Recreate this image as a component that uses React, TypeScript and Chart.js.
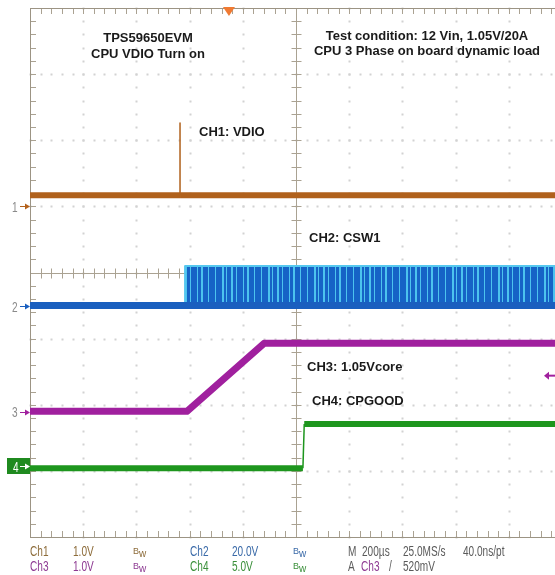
import React, { useEffect, useRef } from "react";
import { Chart, registerables } from "chart.js";
Chart.register(...registerables);

// Time axis: 10 divisions × 200 µs
const TIME_DIV_US = 200;
const X_DIVS = 10;
const Y_DIVS = 8;

// Trace levels in screen divisions (0 = bottom graticule line)
const ch1Time = [0, 564, 564, 564, 2000];
const ch1Level = [5.17, 5.17, 6.26, 5.17, 5.17];
const ch2LowTime = [0, 2000];
const ch2LowLevel = [3.5, 3.5];
const ch2HighTime = [583, 583, 2000];
const ch2HighLevel = [3.5, 4.1, 4.1];
const ch3Time = [0, 590, 880, 2000];
const ch3Level = [1.9, 1.9, 2.93, 2.93];
const ch4Time = [0, 1026, 1031, 2000];
const ch4Level = [1.04, 1.04, 1.71, 1.71];

const markerLevels = [5.0, 3.5, 1.89, 1.07];
const markerColors = ["#b4621c", "#1a5fbf", "#a0209e", "#ffffff"];
const triggerTimeUs = 748;
const triggerLevel = 2.44;

const pts = (xs: number[], ys: number[]) => xs.map((x, i) => ({ x, y: ys[i] }));

const graticule = {
  id: "graticule",
  beforeDatasetsDraw(chart: any) {
    const { ctx, chartArea: a, scales } = chart;
    const xs = scales.x, ys = scales.y;
    ctx.save();
    const minorX: number[] = [];
    for (let i = 0; i <= X_DIVS * 5; i++) minorX.push(Math.round(xs.getPixelForValue((i * TIME_DIV_US) / 5)) + 0.5);
    const minorY: number[] = [];
    for (let j = 0; j <= Y_DIVS * 5; j++) minorY.push(Math.round(ys.getPixelForValue(j / 5)) + 0.5);
    const majX = (i: number) => Math.round(xs.getPixelForValue(i * TIME_DIV_US)) + 0.5;
    const majY = (j: number) => Math.round(ys.getPixelForValue(j)) + 0.5;
    // dotted grid
    ctx.fillStyle = "#d2d2d2";
    for (let i = 1; i < X_DIVS; i++) {
      if (i === 5) continue;
      const px = majX(i);
      minorY.forEach((py) => ctx.fillRect(px - 1, py - 1, 2, 2));
    }
    for (let j = 1; j < Y_DIVS; j++) {
      if (j === 4) continue;
      const py = majY(j);
      minorX.forEach((px) => ctx.fillRect(px - 1, py - 1, 2, 2));
    }
    ctx.strokeStyle = "#aaa292";
    ctx.lineWidth = 1;
    // center axes
    const cx = majX(5), cy = majY(4);
    ctx.beginPath();
    ctx.moveTo(a.left, cy); ctx.lineTo(a.right, cy);
    ctx.moveTo(cx, a.top); ctx.lineTo(cx, a.bottom);
    minorX.forEach((px) => { ctx.moveTo(px, cy - 5); ctx.lineTo(px, cy + 5); });
    minorY.forEach((py) => { ctx.moveTo(cx - 5, py); ctx.lineTo(cx + 5, py); });
    // border ticks
    minorX.forEach((px) => {
      ctx.moveTo(px, a.top); ctx.lineTo(px, a.top + 6);
      ctx.moveTo(px, a.bottom); ctx.lineTo(px, a.bottom - 6);
    });
    minorY.forEach((py) => {
      ctx.moveTo(a.left, py); ctx.lineTo(a.left + 6, py);
      ctx.moveTo(a.right, py); ctx.lineTo(a.right - 6, py);
    });
    ctx.stroke();
    ctx.strokeStyle = "#9c9484";
    ctx.strokeRect(Math.round(a.left) + 0.5, Math.round(a.top) + 0.5, Math.round(a.width), Math.round(a.height));
    ctx.restore();
  },
  afterDatasetsDraw(chart: any) {
    const { ctx, chartArea: a, scales } = chart;
    ctx.save();
    // trigger position marker (top)
    const tx = scales.x.getPixelForValue(triggerTimeUs);
    ctx.fillStyle = "#f07a32";
    ctx.beginPath();
    ctx.moveTo(tx - 6, a.top - 1);
    ctx.lineTo(tx + 6, a.top - 1);
    ctx.lineTo(tx, a.top + 8);
    ctx.closePath();
    ctx.fill();
    // trigger level marker (right)
    const ty = scales.y.getPixelForValue(triggerLevel);
    ctx.strokeStyle = "#a0209e";
    ctx.fillStyle = "#a0209e";
    ctx.lineWidth = 2;
    ctx.beginPath();
    ctx.moveTo(548, ty); ctx.lineTo(556, ty);
    ctx.stroke();
    ctx.beginPath();
    ctx.moveTo(544, ty); ctx.lineTo(549, ty - 4); ctx.lineTo(549, ty + 4); ctx.closePath();
    ctx.fill();
    // ground markers (left)
    const g4 = scales.y.getPixelForValue(markerLevels[3]);
    ctx.fillStyle = "#1f8a1f";
    ctx.fillRect(7, Math.round(g4) - 8, a.left - 7, 16);
    markerLevels.forEach((lv, k) => {
      const py = Math.round(scales.y.getPixelForValue(lv)) + 0.5;
      ctx.strokeStyle = markerColors[k];
      ctx.fillStyle = markerColors[k];
      ctx.lineWidth = 1;
      ctx.beginPath();
      ctx.moveTo(20, py); ctx.lineTo(26, py);
      ctx.stroke();
      ctx.beginPath();
      ctx.moveTo(a.left, py); ctx.lineTo(a.left - 5, py - 3); ctx.lineTo(a.left - 5, py + 3); ctx.closePath();
      ctx.fill();
    });
    ctx.restore();
  },
};

function makePattern(): CanvasPattern | string {
  const c = document.createElement("canvas");
  c.width = 46; c.height = 8;
  const g = c.getContext("2d");
  if (!g) return "#1660c4";
  g.fillStyle = "#1663c6";
  g.fillRect(0, 0, 46, 8);
  g.fillStyle = "#4cc3ee";
  [1, 6, 13, 17, 24, 31, 38, 42].forEach((p, i) => g.fillRect(p, 0, i % 3 === 0 ? 2 : 1, 8));
  return g.createPattern(c, "repeat") || "#1660c4";
}

const thinIfVertical = (wide: number) => (ctx: any) =>
  Math.abs(ctx.p1.parsed.x - ctx.p0.parsed.x) < 10 ? 1.5 : wide;

type TProps = { x: number; capTop: number; size: number; color: string; bold?: boolean; sx?: number; center?: boolean; children: React.ReactNode };
function T({ x, capTop, size, color, bold, sx, center, children }: TProps) {
  const style: React.CSSProperties = {
    position: "absolute",
    left: x,
    top: capTop - 0.1305 * size,
    fontSize: size,
    lineHeight: size + "px",
    fontFamily: "'Liberation Sans', Arial, sans-serif",
    fontWeight: bold ? 700 : 400,
    color,
    whiteSpace: "nowrap",
    transformOrigin: center ? "center top" : "left top",
    transform: center ? "translateX(-50%)" : sx ? `scaleX(${sx})` : undefined,
  };
  return <div style={style}>{children}</div>;
}

const BROWN = "#8d6c3a", BLUE = "#3a6aa8", PURPLE = "#8d3a92", GREEN = "#3a8f3a", GRAY = "#5a5a5a";
const SX = 0.72;

function Bw({ x, capTop, color }: { x: number; capTop: number; color: string }) {
  return (
    <div style={{ position: "absolute", left: x, top: capTop, color, fontFamily: "'Liberation Sans', Arial, sans-serif", whiteSpace: "nowrap", lineHeight: "10px" }}>
      <span style={{ fontSize: 9, position: "relative", top: -1 }}>B</span>
      <span style={{ fontSize: 10, position: "relative", top: 2 }}>w</span>
    </div>
  );
}

export default function App() {
  const ref = useRef<HTMLCanvasElement | null>(null);
  useEffect(() => {
    if (!ref.current) return;
    const pattern = makePattern();
    const chart = new Chart(ref.current, {
      type: "line",
      data: {
        datasets: [
          { label: "CH1: VDIO", data: pts(ch1Time, ch1Level), borderColor: "#b0611c", borderWidth: 6, pointRadius: 0, segment: { borderWidth: thinIfVertical(6) } } as any,
          { label: "CH2 low", data: pts(ch2LowTime, ch2LowLevel), borderColor: "#1a5fbf", borderWidth: 7, pointRadius: 0 },
          { label: "CH2: CSW1", data: pts(ch2HighTime, ch2HighLevel), borderColor: "#55c8ef", borderWidth: 2, pointRadius: 0, fill: { value: ch2LowLevel[0] }, backgroundColor: pattern as any },
          { label: "CH3: 1.05Vcore", data: pts(ch3Time, ch3Level), borderColor: "#a0209e", borderWidth: 7, pointRadius: 0 },
          { label: "CH4: CPGOOD", data: pts(ch4Time, ch4Level), borderColor: "#1e961e", borderWidth: 6, pointRadius: 0, segment: { borderWidth: thinIfVertical(6) } } as any,
        ],
      },
      options: {
        responsive: false,
        animation: false,
        devicePixelRatio: 1,
        layout: { padding: { left: 30, top: 8, right: 8, bottom: 38 } },
        scales: {
          x: { type: "linear", min: 0, max: X_DIVS * TIME_DIV_US, display: false },
          y: { type: "linear", min: 0, max: Y_DIVS, display: false },
        },
        plugins: { legend: { display: false }, tooltip: { enabled: false } },
        elements: { line: { tension: 0, borderJoinStyle: "round" } },
      },
      plugins: [graticule],
    });
    return () => chart.destroy();
  }, []);

  return (
    <div style={{ position: "fixed", left: 0, top: 0, width: 555, height: 575, overflow: "hidden", background: "#fff" }}>
      <canvas ref={ref} width={570} height={575} style={{ position: "absolute", left: 0, top: 0, width: 570, height: 575 }} />
      <T x={148} capTop={33} size={13} color="#1a1a1a" bold center>TPS59650EVM</T>
      <T x={148} capTop={49} size={13} color="#1a1a1a" bold center>CPU VDIO Turn on</T>
      <T x={427} capTop={31} size={13} color="#1a1a1a" bold center>Test condition: 12 Vin, 1.05V/20A</T>
      <T x={427} capTop={46} size={13} color="#1a1a1a" bold center>CPU 3 Phase on board dynamic load</T>
      <T x={199} capTop={127} size={13} color="#1a1a1a" bold>CH1: VDIO</T>
      <T x={309} capTop={233} size={13} color="#1a1a1a" bold>CH2: CSW1</T>
      <T x={307} capTop={362} size={13} color="#1a1a1a" bold>CH3: 1.05Vcore</T>
      <T x={312} capTop={396} size={13} color="#1a1a1a" bold>CH4: CPGOOD</T>

      <T x={12} capTop={202} size={14} color="#8a8a8a" sx={SX}>1</T>
      <T x={12} capTop={302} size={14} color="#8a8a8a" sx={SX}>2</T>
      <T x={12} capTop={407} size={14} color="#8a8a8a" sx={SX}>3</T>
      <T x={13} capTop={462} size={14} color="#ffffff" sx={SX}>4</T>

      <T x={30} capTop={546} size={14} color={BROWN} sx={SX}>Ch1</T>
      <T x={73} capTop={546} size={14} color={BROWN} sx={SX}>1.0V</T>
      <Bw x={133} capTop={545} color={BROWN} />
      <T x={190} capTop={546} size={14} color={BLUE} sx={SX}>Ch2</T>
      <T x={232} capTop={546} size={14} color={BLUE} sx={SX}>20.0V</T>
      <Bw x={293} capTop={545} color={BLUE} />
      <T x={348} capTop={546} size={14} color={GRAY} sx={SX}>M</T>
      <T x={362} capTop={546} size={14} color={GRAY} sx={SX}>200µs</T>
      <T x={403} capTop={546} size={14} color={GRAY} sx={SX}>25.0MS/s</T>
      <T x={463} capTop={546} size={14} color={GRAY} sx={SX}>40.0ns/pt</T>

      <T x={30} capTop={561} size={14} color={PURPLE} sx={SX}>Ch3</T>
      <T x={73} capTop={561} size={14} color={PURPLE} sx={SX}>1.0V</T>
      <Bw x={133} capTop={560} color={PURPLE} />
      <T x={190} capTop={561} size={14} color={GREEN} sx={SX}>Ch4</T>
      <T x={232} capTop={561} size={14} color={GREEN} sx={SX}>5.0V</T>
      <Bw x={293} capTop={560} color={GREEN} />
      <T x={348} capTop={561} size={14} color={GRAY} sx={SX}>A</T>
      <T x={361} capTop={561} size={14} color={PURPLE} sx={SX}>Ch3</T>
      <T x={389} capTop={561} size={14} color={GRAY} sx={SX}>/</T>
      <T x={403} capTop={561} size={14} color={GRAY} sx={SX}>520mV</T>
    </div>
  );
}
